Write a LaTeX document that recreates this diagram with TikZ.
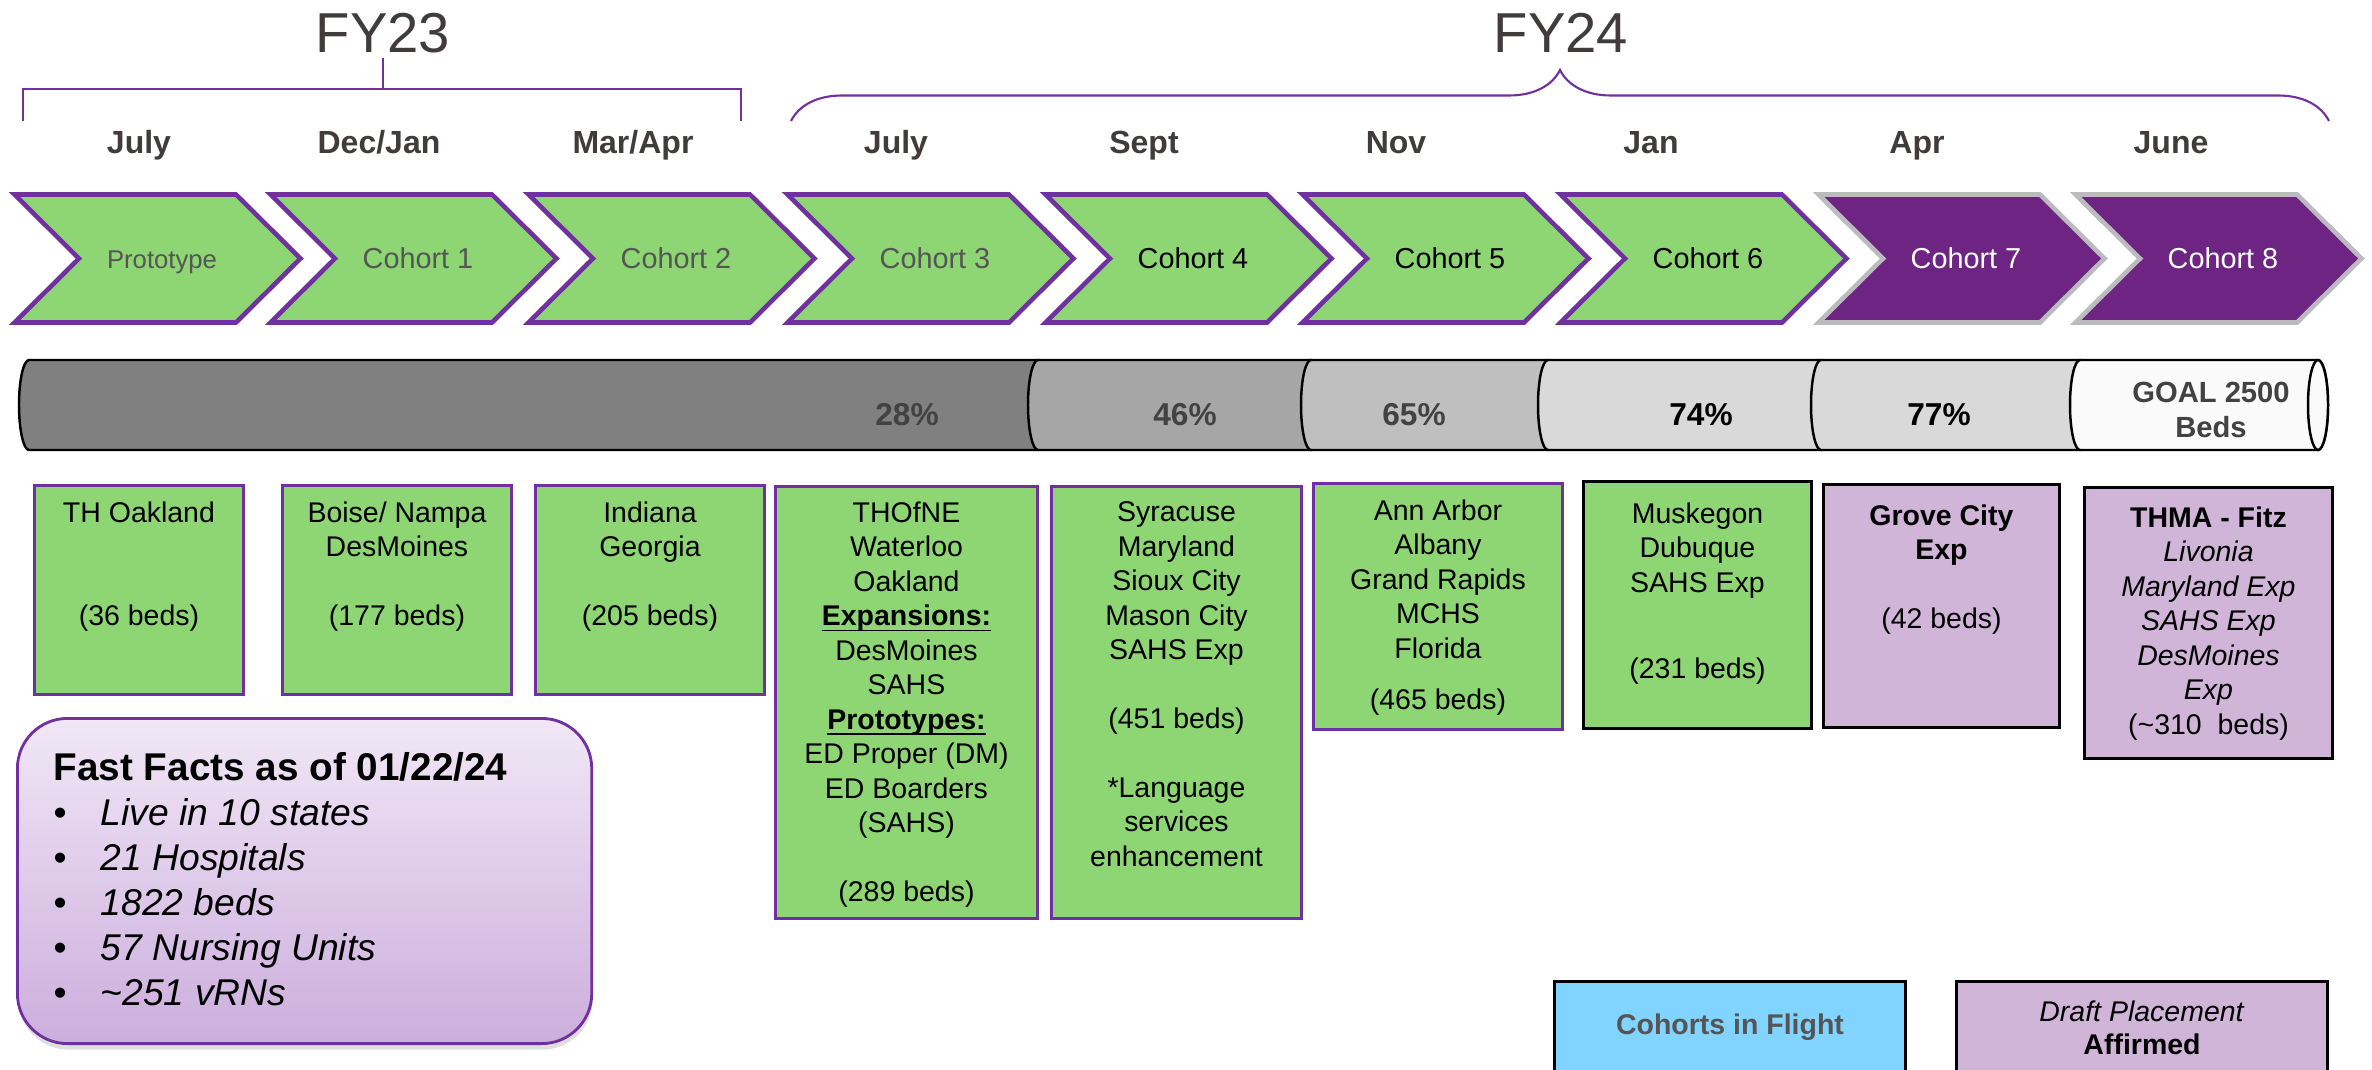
\documentclass[tikz,border=0pt]{standalone}
\usepackage{fontspec}
\setmainfont{Liberation Sans}
\usepackage{xcolor}
\usetikzlibrary{
positioning,
shadows,
decorations.pathreplacing
}

\definecolor{chgreen}{RGB}{142,213,115}
\definecolor{chpurple}{RGB}{112,48,160}
\definecolor{darkplum}{RGB}{109,36,131}
\definecolor{chevgray}{RGB}{187,187,191}
\definecolor{lilac}{RGB}{208,181,217}
\definecolor{skyblue}{RGB}{128,212,255}
\definecolor{labelgray}{RGB}{64,60,60}
\definecolor{cgray}{RGB}{85,85,85}
\definecolor{pctgray}{RGB}{66,66,66}
\definecolor{barA}{RGB}{128,128,128}
\definecolor{barB}{RGB}{166,166,166}
\definecolor{barC}{RGB}{191,191,191}
\definecolor{barD}{RGB}{217,217,217}
\definecolor{barE}{RGB}{250,250,250}
\definecolor{factTop}{RGB}{241,231,246}
\definecolor{factBot}{RGB}{204,174,221}

\newcommand{\headline}[1]{\underline{\smash{\textbf{#1}}}}

\begin{document}
\begin{tikzpicture}[x=0.01cm, y=0.01cm,
    fy/.style={anchor=base, text=labelgray, font=\fontsize{16}{19}\selectfont},
    month/.style={anchor=base, text=labelgray, font=\fontsize{9.1}{11}\selectfont\bfseries},
    chev/.style={line width=1.3pt},
    barseg/.style={draw=black, line width=0.7pt},
    pct/.style={anchor=base, font=\fontsize{9}{10}\selectfont\bfseries},
    cbox/.style={draw=chpurple, line width=0.8pt, fill=chgreen, anchor=north west, inner sep=0pt},
    kbox/.style={cbox, draw=black},
    lbox/.style={cbox, draw=black, fill=lilac},
    btxt/.style={anchor=north, align=center, inner sep=0pt, font=\fontsize{8.1}{9.8}\selectfont},
    facts/.style={draw=chpurple, line width=0.8pt, rounded corners=0.5cm, top color=factTop, bottom color=factBot,
      anchor=north west, drop shadow={shadow xshift=0.01cm, shadow yshift=-0.06cm, opacity=0.25}},
    legbox/.style={draw=black, line width=0.8pt, anchor=north west, align=center, font=\fontsize{8.1}{9.4}\selectfont}]
  \useasboundingbox (0,0) rectangle (2372,-1069);
  \clip (0,0) rectangle (2372,-1069);

  \node[fy] (fy23) at (383,-52) {FY23};
  \node[fy] (fy24) at (1561,-52) {FY24};
  \draw[chpurple, line width=0.8pt] (23,-121) -- (23,-89) -- (741,-89) -- (741,-121)
      (383,-89) -- (383,-58);
  \draw[chpurple, line width=0.6pt, decorate, decoration={brace, amplitude=0.51cm}]
      (791,-121) -- (2329,-121);

  \foreach \x/\m [count=\i] in {139/July, 379/{Dec/Jan}, 633/{Mar/Apr}, 896/July, 1144/Sept,
      1396/Nov, 1651/Jan, 1917/Apr, 2171/June}
    \node[month] (mon\i) at (\x,-153) {\m};

  \foreach \l/\fc/\dc/\tc/\fs/\lab [count=\i] in {
      12/chgreen/chpurple/cgray/7.3/Prototype,
      268/chgreen/chpurple/cgray/8.2/Cohort 1,
      526/chgreen/chpurple/cgray/8.2/Cohort 2,
      785/chgreen/chpurple/cgray/8.2/Cohort 3,
      1043/chgreen/chpurple/black/8.2/Cohort 4,
      1300/chgreen/chpurple/black/8.2/Cohort 5,
      1558/chgreen/chpurple/black/8.2/Cohort 6,
      1816/darkplum/chevgray/white/8.2/Cohort 7,
      2073/darkplum/chevgray/white/8.2/Cohort 8}
  {
    \draw[chev, draw=\dc, fill=\fc] (\l+2.5,-194.5) -- (\l+224,-194.5) -- (\l+288.5,-258.5)
        -- (\l+224,-322.5) -- (\l+2.5,-322.5) -- (\l+67,-258.5) -- cycle;
    \node[anchor=base, text=\tc, font=\fontsize{\fs}{10}\selectfont] (ch\i) at (\l+150,-268) {\lab};
  }

  \foreach \a/\b/\c in {19/1028/barA, 1028/1301/barB, 1301/1538/barC, 1538/1811/barD, 1811/2070/barD}
    \draw[barseg, fill=\c] (\a+10,-360) -- (\b+10,-360) -- (\b+10,-450) -- (\a+10,-450)
        arc[start angle=270, end angle=90, x radius=10, y radius=45] -- cycle;
  \draw[barseg, fill=barE] (2080,-360) -- (2318,-360) arc[start angle=90, end angle=-90, x radius=10, y radius=45]
      -- (2080,-450) arc[start angle=270, end angle=90, x radius=10, y radius=45] -- cycle;
  \draw[barseg, fill=barE] (2318,-405) ellipse [x radius=10, y radius=45];

  \node[pct, text=pctgray] (p28) at (907,-425) {28\%};
  \node[pct, text=pctgray] (p46) at (1185,-425) {46\%};
  \node[pct, text=pctgray] (p65) at (1414,-425) {65\%};
  \node[pct] (p74) at (1701,-425) {74\%};
  \node[pct] (p77) at (1939,-425) {77\%};
  \node[anchor=north, align=center, inner sep=0pt, text=pctgray, font=\fontsize{8.3}{10}\selectfont\bfseries]
      (goal) at (2211,-381) {GOAL 2500\\Beds};

  \node[cbox, minimum width=2.09cm, minimum height=2.09cm] (bA) at (33,-484) {};
  \node[btxt, below=0.17cm of bA.north] (tA) {TH Oakland\\[0.69cm](36 beds)};
  \node[cbox, minimum width=2.29cm, minimum height=2.09cm] (bB) at (281,-484) {};
  \node[btxt, below=0.17cm of bB.north] (tB) {Boise/ Nampa\\DesMoines\\[0.345cm](177 beds)};
  \node[cbox, minimum width=2.29cm, minimum height=2.09cm] (bC) at (534,-484) {};
  \node[btxt, below=0.17cm of bC.north] (tC) {Indiana\\Georgia\\[0.345cm](205 beds)};
  \node[cbox, minimum width=2.62cm, minimum height=4.32cm] (bD) at (774,-485) {};
  \node[btxt, below=0.16cm of bD.north] (tD) {THOfNE\\Waterloo\\Oakland\\\headline{Expansions:}\\DesMoines\\SAHS\\
      \headline{Prototypes:}\\ED Proper (DM)\\ED Boarders\\(SAHS)\\[0.345cm](289 beds)};
  \node[cbox, minimum width=2.50cm, minimum height=4.32cm] (bE) at (1050,-485) {};
  \node[btxt, below=0.16cm of bE.north] (tE) {Syracuse\\Maryland\\Sioux City\\Mason City\\SAHS Exp\\[0.345cm]
      (451 beds)\\[0.345cm]*Language\\services\\enhancement};
  \node[cbox, minimum width=2.49cm, minimum height=2.46cm] (bF) at (1312,-482) {};
  \node[btxt, below=0.17cm of bF.north] (tF) {Ann Arbor\\Albany\\Grand Rapids\\MCHS\\Florida\\[0.17cm](465 beds)};
  \node[kbox, minimum width=2.28cm, minimum height=2.47cm] (bG) at (1582,-480) {};
  \node[btxt, below=0.22cm of bG.north] (tG) {Muskegon\\Dubuque\\SAHS Exp\\[0.52cm](231 beds)};
  \node[lbox, minimum width=2.36cm, minimum height=2.43cm] (bH) at (1822,-483) {};
  \node[btxt, below=0.21cm of bH.north] (tH) {\textbf{Grove City}\\\textbf{Exp}\\[0.345cm](42 beds)};
  \node[lbox, minimum width=2.48cm, minimum height=2.71cm] (bI) at (2083,-486) {};
  \node[btxt, below=0.20cm of bI.north] (tI) {\textbf{THMA - Fitz}\\\textit{Livonia}\\\textit{Maryland Exp}\\
      \textit{SAHS Exp}\\\textit{DesMoines}\\\textit{Exp}\\(\textasciitilde310\ \ beds)};

  \node[facts, minimum width=5.74cm, minimum height=3.25cm] (ffbox) at (16,-717) {};
  \node[anchor=north west, align=left, inner sep=0pt, font=\fontsize{10.6}{12.8}\selectfont] (fflist) at (53,-752)
      {\textbf{\fontsize{11}{12.8}\selectfont Fast Facts as of 01/22/24}\\
       \makebox[0.47cm][l]{\textbullet}\textit{Live in 10 states}\\
       \makebox[0.47cm][l]{\textbullet}\textit{21 Hospitals}\\
       \makebox[0.47cm][l]{\textbullet}\textit{1822 beds}\\
       \makebox[0.47cm][l]{\textbullet}\textit{57 Nursing Units}\\
       \makebox[0.47cm][l]{\textbullet}\textit{\textasciitilde251 vRNs}};

  \node[legbox, fill=skyblue, minimum width=3.51cm, minimum height=0.92cm, text=cgray] (flight) at (1553,-980)
      {\textbf{Cohorts in Flight}};
  \node[legbox, fill=lilac, minimum width=3.71cm, minimum height=0.92cm] (draft) at (1955,-980)
      {\textit{Draft Placement}\\\textbf{Affirmed}};
\end{tikzpicture}
\end{document}
